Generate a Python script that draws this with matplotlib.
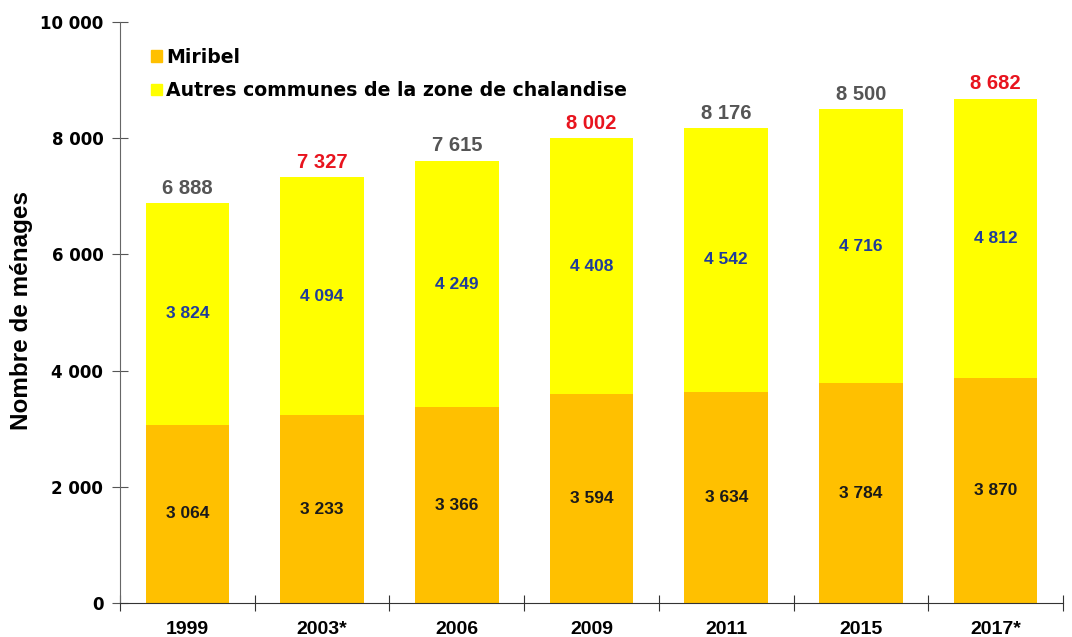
import numpy as np
import matplotlib.pyplot as plt
from matplotlib.patches import Patch

# Nombre de ménages - Miribel et zone de chalandise

years = ['1999', '2003*', '2006', '2009', '2011', '2015', '2017*']
miribel = [3064, 3233, 3366, 3594, 3634, 3784, 3870]
autres = [3824, 4094, 4249, 4408, 4542, 4716, 4812]
totals = [6888, 7327, 7615, 8002, 8176, 8500, 8682]
total_red = [False, True, False, True, False, False, True]


def fmt(v):
    return '{:,}'.format(v).replace(',', ' ')


fig = plt.figure(figsize=(10.72, 6.37), dpi=100)
ax = fig.add_axes([120 / 1072, 1 - 603 / 637, (1063 - 120) / 1072, (603 - 22) / 637])

x = np.arange(len(years))
w = 0.62
ax.bar(x, miribel, w, color='#FFC000', zorder=2)
ax.bar(x, autres, w, bottom=miribel, color='#FFFF00', zorder=2)

for i in range(len(years)):
    ax.text(x[i], miribel[i] / 2, fmt(miribel[i]), ha='center', va='center',
            fontsize=12.5, fontweight='bold', family='Liberation Sans', color='#1a1a1a')
    ax.text(x[i], miribel[i] + autres[i] / 2, fmt(autres[i]), ha='center', va='center',
            fontsize=12.5, fontweight='bold', family='Liberation Sans', color='#1F3C9A')
    ax.text(x[i], totals[i] + 90, fmt(totals[i]), ha='center', va='bottom',
            fontsize=14.5, fontweight='bold', family='Liberation Sans',
            color='#E8141E' if total_red[i] else '#555555')

ax.set_xlim(-0.5, len(years) - 0.5)
ax.set_ylim(0, 10000)
ax.set_yticks(range(0, 10001, 2000))
ax.set_yticklabels([fmt(v) for v in range(0, 10001, 2000)], fontsize=12,
                   fontweight='bold', family='DejaVu Sans')
ax.set_xticks(np.arange(-0.5, len(years), 1))
ax.set_xticklabels([])
ax.set_xticks(x, minor=True)
ax.set_xticklabels(years, minor=True, fontsize=14, fontweight='bold',
                   family='Liberation Sans')
ax.tick_params(axis='x', which='minor', length=0, pad=13)
ax.tick_params(axis='x', which='major', direction='inout', length=12, color='#333333')
ax.tick_params(axis='y', direction='inout', length=12, color='#555555', pad=6)

for s in ['top', 'right']:
    ax.spines[s].set_visible(False)
ax.spines['left'].set_color('#666666')
ax.spines['bottom'].set_color('#333333')

fig.text(22 / 1072, 1 - 311 / 637, 'Nombre de ménages', rotation=90,
         ha='center', va='center', fontsize=17.5, fontweight='bold',
         family='Liberation Sans')

handles = [Patch(color='#FFC000'), Patch(color='#FFFF00')]
ax.legend(handles, ['Miribel', 'Autres communes de la zone de chalandise'],
          loc='upper left', bbox_to_anchor=(0.015, 0.985), frameon=False,
          handlelength=0.55, handleheight=0.55, handletextpad=0.25, labelspacing=0.75,
          prop={'family': 'DejaVu Sans', 'weight': 'bold', 'size': 13.6})

plt.savefig('out.png', dpi=100)
